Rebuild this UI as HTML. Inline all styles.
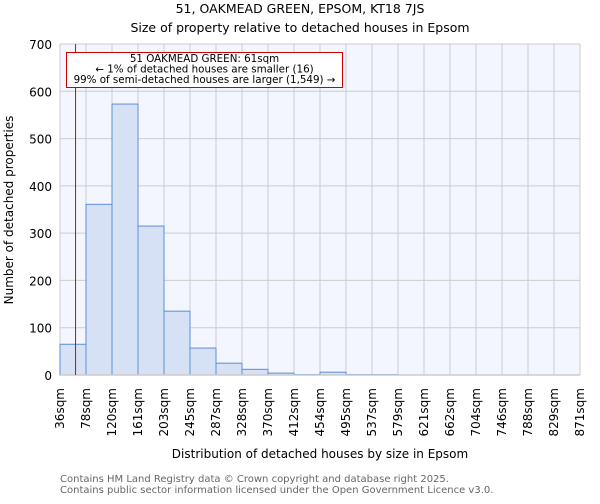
<!DOCTYPE html>
<html><head><meta charset="utf-8"><style>
body{margin:0;background:#fff;font-family:"DejaVu Sans","Liberation Sans",sans-serif;}
svg text{font-family:"DejaVu Sans","Liberation Sans",sans-serif;}
</style></head><body>
<svg id="chart" width="600" height="500" xmlns="http://www.w3.org/2000/svg">
<text x="300" y="13" text-anchor="middle" font-size="12.5">51, OAKMEAD GREEN, EPSOM, KT18 7JS</text>
<text x="300" y="32" text-anchor="middle" font-size="12.5">Size of property relative to detached houses in Epsom</text>
<rect x="60" y="44" width="520" height="331" fill="#f3f6fe"/>
<g id="grid"></g>
<g id="bars"></g>
<g id="axes"></g>
<text transform="translate(13,210) rotate(-90)" text-anchor="middle" font-size="12">Number of detached properties</text>
<text x="320" y="458" text-anchor="middle" font-size="12">Distribution of detached houses by size in Epsom</text>
<text x="60" y="482" font-size="10" fill="#666">Contains HM Land Registry data © Crown copyright and database right 2025.</text>
<text x="60" y="493" font-size="10" fill="#666">Contains public sector information licensed under the Open Government Licence v3.0.</text>
</svg>
<script>
const binLabels=["36sqm","78sqm","120sqm","161sqm","203sqm","245sqm","287sqm","328sqm","370sqm","412sqm","454sqm","495sqm","537sqm","579sqm","621sqm","662sqm","704sqm","746sqm","788sqm","829sqm","871sqm"];
const counts=[65,361,573,315,135,57,25,12,4,1,6,1,1,0,0,0,0,0,0,0];
const yTicks=[0,100,200,300,400,500,600,700];
const propertySize=61;
const binStart=36, binWidth=41.75;
const X0=60,X1=580,Y0=375,Y1=44,YMAX=700;
const bw=(X1-X0)/counts.length;
const xs=i=>X0+i*bw;
const ys=v=>Y0-(v/YMAX)*(Y0-Y1);
const xsqm=s=>X0+(s-binStart)/binWidth*bw;
const NS="http://www.w3.org/2000/svg";
function mk(t,a,p){const e=document.createElementNS(NS,t);for(const k in a)e.setAttribute(k,a[k]);p.appendChild(e);return e;}
const grid=document.getElementById('grid'),bars=document.getElementById('bars'),axes=document.getElementById('axes');
yTicks.forEach(v=>{const l=mk('line',{x1:X0,x2:X1,y1:ys(v),y2:ys(v),stroke:'#cccccc','stroke-width':1},grid);


const t=mk('text',{x:X0-8,y:ys(v)+5,'text-anchor':'end','font-size':12},axes);t.textContent=v;

});
binLabels.forEach((s,i)=>{const x=xs(i);const l=mk('line',{x1:x,x2:x,y1:Y1,y2:Y0,stroke:'#cccccc','stroke-width':1},grid);


const t=mk('text',{transform:`translate(${x+4},388) rotate(-90)`,'text-anchor':'end','font-size':12},axes);t.textContent=s;

});
counts.forEach((c,i)=>{if(c<=0)return;const r=mk('rect',{x:xs(i),y:ys(c),width:bw,height:Y0-ys(c),fill:'#d6e1f5',stroke:'#5b8ed8','stroke-width':1},bars);

});
const ax=mk('line',{x1:X0,x2:X1,y1:Y0,y2:Y0,stroke:'#cccccc','stroke-width':1.5},axes);


const px=xsqm(propertySize);
const ml=mk('line',{x1:px,x2:px,y1:Y1,y2:Y0,stroke:'#dd0000','stroke-width':1},axes);


const box=mk('rect',{x:66.5,y:52.5,width:276,height:35,fill:'#fff',stroke:'#cc0000','stroke-width':1},axes);


["51 OAKMEAD GREEN: 61sqm","← 1% of detached houses are smaller (16)","99% of semi-detached houses are larger (1,549) →"].forEach((s,i)=>{const t=mk('text',{x:204.5,y:62+i*10.5,'text-anchor':'middle','font-size':10.3},axes);t.textContent=s;

});
</script>
</body></html>
